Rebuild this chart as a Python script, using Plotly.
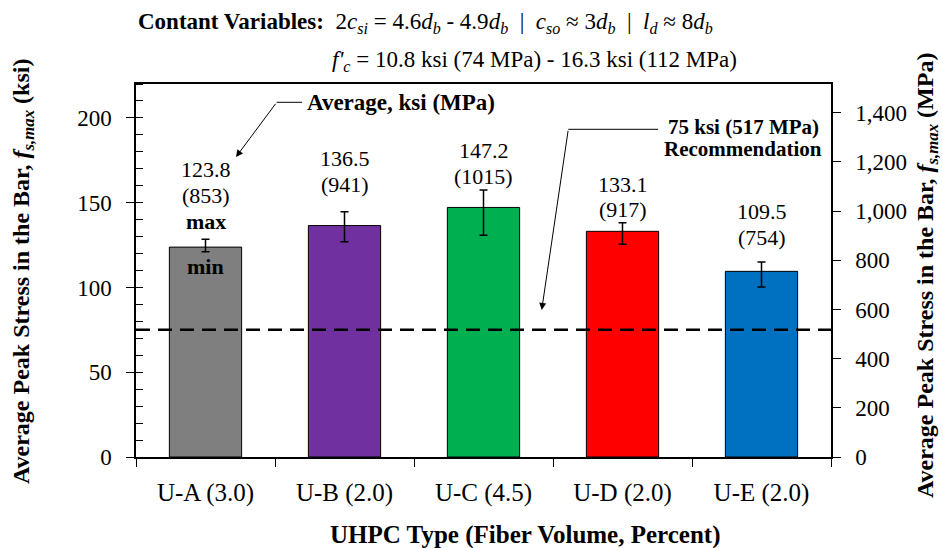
import plotly.graph_objects as go

# ---- data ----
categories = ["U-A (3.0)", "U-B (2.0)", "U-C (4.5)", "U-D (2.0)", "U-E (2.0)"]
avg_ksi = [123.8, 136.5, 147.2, 133.1, 109.5]
avg_mpa = [853, 941, 1015, 917, 754]
max_ksi = [128.5, 144.6, 157.5, 138.1, 115.0]
min_ksi = [121.0, 126.9, 130.8, 125.5, 100.2]
recommended_ksi = 75
recommended_mpa = 517
bar_colors = ["#7f7f7f", "#7030a0", "#00b050", "#ff0000", "#0070c0"]

KSI_TO_MPA = 6.894757
Y_MAX = 220

FONT = "Liberation Serif"

# ---- figure geometry (px) ----
W, H = 943, 548
ML, MR, MT, MB = 136, 112, 84, 91
PW, PH = W - ML - MR, H - MT - MB


def px(x):
    return (x - ML) / PW


def py(y):
    return (H - MB - y) / PH


def cat_x(x):
    return (x - ML) / (PW / len(categories)) - 0.5


def ksi_y(y):
    return (H - MB - y) / PH * Y_MAX


def text_at(x, y, text, size=21, xanchor="center", **kw):
    return dict(xref="paper", yref="paper", x=px(x), y=py(y), text=text, showarrow=False,
                xanchor=xanchor, yanchor="middle", font=dict(family=FONT, size=size, color="black"), **kw)


err_plus = [hi - a for hi, a in zip(max_ksi, avg_ksi)]
err_minus = [a - lo for a, lo in zip(avg_ksi, min_ksi)]

fig = go.Figure()
fig.add_trace(go.Bar(
    x=categories, y=avg_ksi, width=0.52,
    marker=dict(color=bar_colors, line=dict(color="black", width=1)),
    error_y=dict(type="data", symmetric=False, array=err_plus, arrayminus=err_minus,
                 color="black", thickness=1.5, width=4),
    showlegend=False, hoverinfo="skip",
))
# invisible trace to carry the MPa axis
fig.add_trace(go.Scatter(x=categories, y=avg_mpa, yaxis="y2",
                         mode="markers", marker=dict(opacity=0), showlegend=False,
                         hoverinfo="skip"))

# recommendation line
fig.add_shape(type="line", xref="paper", x0=0, x1=1, yref="y", y0=recommended_ksi, y1=recommended_ksi,
              line=dict(color="black", width=2.5, dash="14px,8px"), layer="above")

annotations = []

# value labels above each bar
label_top = [169.3, 175.8, 180.6, 161.0, 144.6]
line_gap = 15.3
for i, cat in enumerate(categories):
    annotations.append(dict(x=cat, y=label_top[i], text=f"{avg_ksi[i]:.1f}", showarrow=False,
                            xanchor="center", yanchor="middle",
                            font=dict(family=FONT, size=22, color="black")))
    annotations.append(dict(x=cat, y=label_top[i] - line_gap, text=f"({avg_mpa[i]})", showarrow=False,
                            xanchor="center", yanchor="middle",
                            font=dict(family=FONT, size=22, color="black")))
annotations.append(dict(x=categories[0], y=138.7, text="<b>max</b>", showarrow=False,
                        xanchor="center", yanchor="middle",
                        font=dict(family=FONT, size=22, color="black")))
annotations.append(dict(x=categories[0], y=112.1, text="<b>min</b>", showarrow=False,
                        xanchor="center", yanchor="middle",
                        font=dict(family=FONT, size=22, color="black")))

# "Average" callout
annotations.append(text_at(305, 102, "<b>Average, ksi (MPa)</b>", size=23, xanchor="left"))
annotations.append(dict(x=cat_x(236), y=ksi_y(157), ax=40.7, ay=-54.7, text="",
                        showarrow=True, arrowhead=2, arrowsize=1.4, arrowwidth=1, arrowcolor="black"))
fig.add_shape(type="line", xref="paper", yref="paper", x0=px(276.7), x1=px(302), y0=py(102.3), y1=py(102.3),
              line=dict(color="black", width=1))

# recommendation callout
annotations.append(text_at(743, 127, f"<b>{recommended_ksi} ksi ({recommended_mpa} MPa)</b>"))
annotations.append(text_at(743, 149, "<b>Recommendation</b>"))
annotations.append(dict(x=cat_x(541.7), y=ksi_y(310), ax=26.6, ay=-180.7, text="",
                        showarrow=True, arrowhead=2, arrowsize=1.4, arrowwidth=1, arrowcolor="black"))
fig.add_shape(type="line", xref="paper", yref="paper", x0=px(568.3), x1=px(658), y0=py(129.3), y1=py(129.3),
              line=dict(color="black", width=1))

# header
annotations.append(text_at(
    136, 23,
    "<b>Contant Variables:</b>  2<i>c</i><sub><i>si</i></sub> = 4.6<i>d</i><sub><i>b</i></sub>"
    " - 4.9<i>d</i><sub><i>b</i></sub>  |  <i>c</i><sub><i>so</i></sub> ≈ 3<i>d</i><sub><i>b</i></sub>"
    "  |  <i>l</i><sub><i>d</i></sub> ≈ 8<i>d</i><sub><i>b</i></sub>",
    size=23, xanchor="left"))
annotations.append(text_at(
    330, 61, "<i>f'</i><sub><i>c</i></sub> = 10.8 ksi (74 MPa) - 16.3 ksi (112 MPa)",
    size=23, xanchor="left"))

# axis titles
annotations.append(text_at(23, 272,
                           "<b>Average Peak Stress in the Bar, <i>f</i><sub><i>s,max</i></sub> (ksi)</b>",
                           size=24, textangle=-90))
annotations.append(text_at(927, 276,
                           "<b>Average Peak Stress in the Bar, <i>f</i><sub><i>s,max</i></sub> (MPa)</b>",
                           size=24, textangle=-90))
annotations.append(text_at(525, 535, "<b>UHPC Type (Fiber Volume, Percent)</b>", size=25))

fig.update_layout(
    width=W, height=H,
    margin=dict(l=ML, r=MR, t=MT, b=MB),
    paper_bgcolor="white", plot_bgcolor="white",
    font=dict(family=FONT, size=22, color="black"),
    xaxis=dict(type="category", tickson="boundaries", ticks="outside", ticklen=8, tickwidth=1.2,
               tickcolor="black", showline=True, linecolor="black", linewidth=1.5, mirror=True,
               showgrid=False, ticklabelstandoff=12, tickfont=dict(family=FONT, size=25),
               range=[-0.5, len(categories) - 0.5]),
    yaxis=dict(range=[0, Y_MAX], dtick=50, ticks="outside", ticklen=8, tickwidth=1.2, tickcolor="black",
               showline=True, linecolor="black", linewidth=1.5, showgrid=False, zeroline=False,
               ticklabelstandoff=10, tickfont=dict(family=FONT, size=23),
               minor=dict(dtick=10, ticks="inside", ticklen=7, tickcolor="black", tickwidth=1.2)),
    yaxis2=dict(range=[0, Y_MAX * KSI_TO_MPA], overlaying="y", side="right", dtick=200, tickformat=",d",
                ticks="outside", ticklen=8, tickwidth=1.2, tickcolor="black", showline=True,
                linecolor="black", linewidth=1.5, showgrid=False, zeroline=False,
                ticklabelstandoff=10, tickfont=dict(family=FONT, size=23)),
    yaxis3=dict(range=[0, Y_MAX], overlaying="y", side="left", dtick=50, ticks="inside", ticklen=7,
                tickwidth=1.2, tickcolor="black", showticklabels=False, showgrid=False, zeroline=False),
    annotations=annotations,
)
# empty trace so the inner major-tick axis is drawn
fig.add_trace(go.Scatter(x=[categories[0]], y=[0], yaxis="y3", mode="markers",
                         marker=dict(opacity=0), showlegend=False, hoverinfo="skip"))

fig.write_html("out.html")
